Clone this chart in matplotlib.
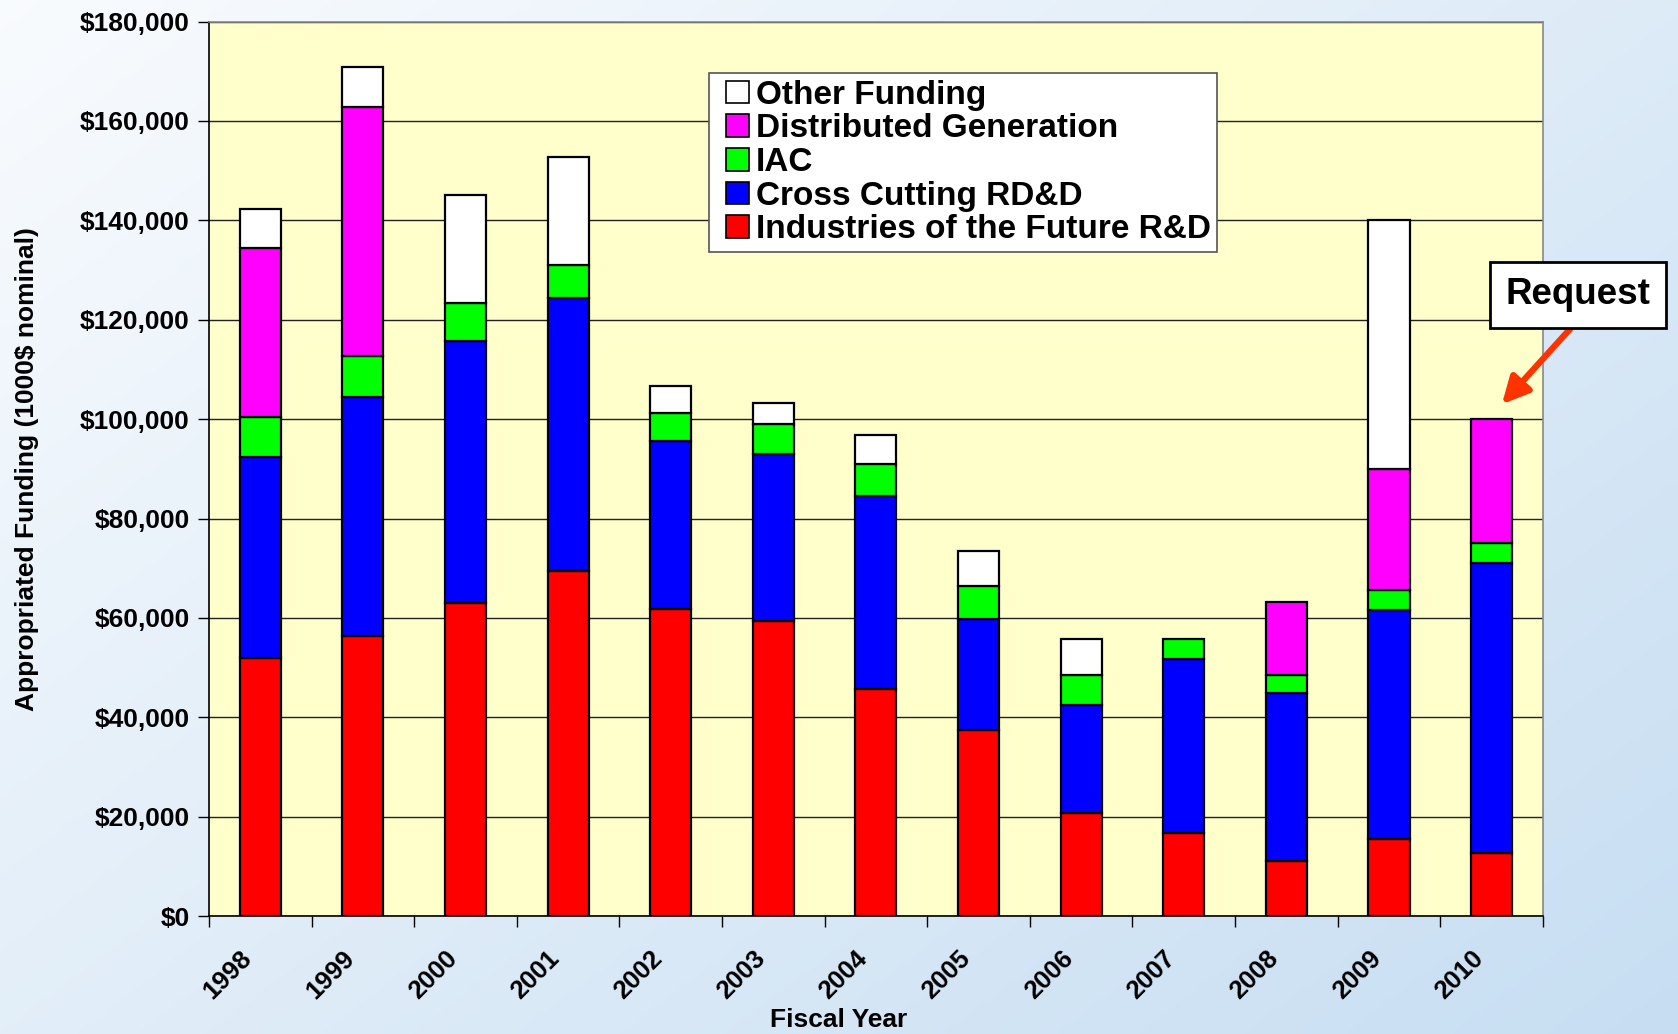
import numpy as np
import matplotlib
matplotlib.use('Agg')
import matplotlib.pyplot as plt
import matplotlib.transforms as mtransforms
from matplotlib.patches import Patch, Rectangle
from matplotlib.legend_handler import HandlerPatch
from matplotlib.ticker import FuncFormatter, MultipleLocator

plt.rcParams['font.family'] = ['Liberation Sans', 'DejaVu Sans']
plt.rcParams['font.weight'] = 'bold'

years = ['1998', '1999', '2000', '2001', '2002', '2003', '2004',
         '2005', '2006', '2007', '2008', '2009', '2010']

# funding by program, 1000$ nominal
industries_future = [52000, 56400, 62900, 69500, 61800, 59300, 45600, 37400, 20700, 16800, 11100, 15500, 12700]
cross_cutting = [40300, 48100, 52900, 54800, 33700, 33700, 39000, 22400, 21700, 34900, 33700, 46100, 58300]
iac = [8200, 8200, 7600, 6800, 5700, 6100, 6300, 6700, 6200, 4100, 3800, 4000, 4000]
distributed_gen = [34000, 50100, 0, 0, 0, 0, 0, 0, 0, 0, 14500, 24400, 25000]
other_funding = [7700, 8000, 21800, 21600, 5400, 4100, 6000, 6900, 7200, 0, 0, 50000, 0]

series = [
    ('Industries of the Future R&D', industries_future, '#ff0000'),
    ('Cross Cutting RD&D', cross_cutting, '#0000ff'),
    ('IAC', iac, '#00ff00'),
    ('Distributed Generation', distributed_gen, '#ff00ff'),
    ('Other Funding', other_funding, '#ffffff'),
]


def square_patch(legend, orig_handle, xdescent, ydescent, width, height, fontsize):
    # square key pushed to the right side of the handle box
    return Rectangle((-xdescent + width - height, -ydescent), height, height)


fig = plt.figure(figsize=(16.78, 10.34), dpi=100)

# light blue slide background
bg = fig.add_axes([0, 0, 1, 1], zorder=-10)
gx, gy = np.meshgrid(np.linspace(0, 1, 300), np.linspace(0, 1, 200))
grad = 0.55 * gx + 0.45 * gy
c0 = np.array([0.975, 0.985, 0.995])
c1 = np.array([0.78, 0.87, 0.95])
img = c0[None, None, :] * (1 - grad[..., None]) + c1[None, None, :] * grad[..., None]
bg.imshow(img, aspect='auto', extent=[0, 1, 0, 1], origin='upper')
bg.axis('off')

ax = fig.add_axes([0.1245, 0.1141, 0.795, 0.865])
ax.set_facecolor('#ffffcc')

x = np.arange(len(years))
bottom = np.zeros(len(years))
for label, vals, color in series:
    vals = np.array(vals, dtype=float)
    m = vals > 0
    ax.bar(x[m], vals[m], width=0.4, bottom=bottom[m], color=color,
           edgecolor='black', linewidth=1.6, zorder=3)
    bottom += vals

ax.set_xlim(-0.5, len(years) - 0.5)
ax.set_ylim(0, 180000)
ax.yaxis.set_major_locator(MultipleLocator(20000))
ax.yaxis.set_major_formatter(FuncFormatter(lambda v, p: f'${v:,.0f}'))
ax.yaxis.grid(True, color='#222222', linewidth=1.0, zorder=1)
ax.set_axisbelow(True)

ax.set_xticks(x)
ax.set_xticklabels(years, rotation=45, ha='right', va='center', rotation_mode='anchor')
ax.set_xticks(np.arange(-0.5, len(years)), minor=True)
ax.tick_params(axis='x', which='major', length=0, pad=28, labelsize=18.5)
ax.tick_params(axis='x', which='minor', length=8, width=1, direction='out')
ax.tick_params(axis='y', length=8, width=1, pad=6, labelsize=19)
shift = mtransforms.ScaledTranslation(-0.12, 0, fig.dpi_scale_trans)
for lab in ax.get_xticklabels():
    lab.set_transform(lab.get_transform() + shift)

for s in ['left', 'bottom']:
    ax.spines[s].set_color('black')
    ax.spines[s].set_linewidth(1.2)
for s in ['top', 'right']:
    ax.spines[s].set_color('#888888')
    ax.spines[s].set_linewidth(1.2)

fig.text(0.016, 0.5465, 'Appropriated Funding (1000$ nominal)', rotation=90,
         ha='center', va='center', fontsize=19, fontweight='bold')
fig.text(0.5, 0.0135, 'Fiscal Year', ha='center', va='center',
         fontsize=19, fontweight='bold')

handles = [Patch(facecolor=c, edgecolor='black', linewidth=1.2, label=l)
           for l, _, c in reversed(series)]
leg = ax.legend(handles=handles, loc='upper left', bbox_to_anchor=(0.375, 0.9425),
                fontsize=24, frameon=True, fancybox=False, framealpha=1,
                edgecolor='#555555', borderpad=0.2, labelspacing=0.08,
                handlelength=1.0, handleheight=0.68, handletextpad=0.2,
                borderaxespad=0,
                handler_map={Patch: HandlerPatch(patch_func=square_patch)})
leg.get_frame().set_linewidth(1.2)
for t in leg.get_texts():
    t.set_fontweight('bold')

ax.annotate('Request', xy=(12.1, 103000), xytext=(12.84, 125000),
            textcoords='data', fontsize=26.5, fontweight='bold',
            ha='center', va='center', annotation_clip=False,
            bbox=dict(boxstyle='square,pad=0.42', facecolor='white',
                      edgecolor='black', linewidth=2),
            arrowprops=dict(arrowstyle='-|>', color='#ff3300', lw=4.5,
                            mutation_scale=40, shrinkA=0, shrinkB=0,
                            relpos=(0.55, 0.0)))

fig.savefig('out.png', dpi=100)
